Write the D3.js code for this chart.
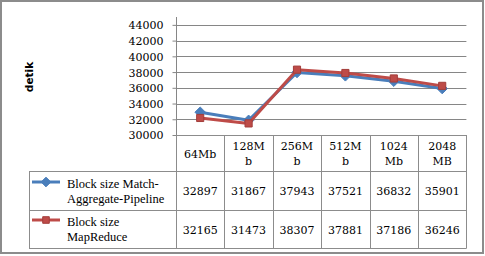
<!DOCTYPE html>
<html>
<head>
<meta charset="utf-8">
<script src="https://cdn.jsdelivr.net/npm/d3@7"></script>
<style>
  body { margin: 0; background: #fff; }
  svg text { font-family: "DejaVu Serif", serif; fill: #000; }
</style>
</head>
<body>
<div id="chart"></div>
<script>
const categories = ["64Mb", "128Mb", "256Mb", "512Mb", "1024Mb", "2048MB"];
const categoryLines = [["64Mb"], ["128M", "b"], ["256M", "b"], ["512M", "b"], ["1024", "Mb"], ["2048", "MB"]];
const seriesNames = [["Block size Match-", "Aggregate-Pipeline"], ["Block size", "MapReduce"]];
const matchAggregate = [32897, 31867, 37943, 37521, 36832, 35901];
const mapReduce = [32165, 31473, 38307, 37881, 37186, 36246];
const yTicks = [30000, 32000, 34000, 36000, 38000, 40000, 42000, 44000];
const colors = ["#4a7ebb", "#be4b48"];

function drawChart() {
  const W = 485, H = 256;
  const plot = { left: 176, right: 466.4, top: 17, bottom: 135 };
  const table = { left: 29, rows: [135, 171, 210, 248] };

  const svg = d3.select("#chart").append("svg")
    .attr("width", W).attr("height", H);

  // outer frame
  svg.append("rect")
    .attr("x", 1).attr("y", 1).attr("width", W - 3).attr("height", H - 4)
    .attr("fill", "#fff").attr("stroke", "#8c8c8c").attr("stroke-width", 2);

  const x = d3.scaleBand().domain(categories).range([plot.left, plot.right]);
  const y = d3.scaleLinear().domain([30000, 45000]).range([plot.bottom, plot.top]);

  // gridlines
  svg.append("g")
    .selectAll("line")
    .data(yTicks.slice(1))
    .join("line")
    .attr("x1", plot.left).attr("x2", plot.right)
    .attr("y1", d => Math.round(y(d)) + 0.5).attr("y2", d => Math.round(y(d)) + 0.5)
    .attr("stroke", "#868686").attr("stroke-width", 1);

  // y axis
  const yAxis = svg.append("g")
    .attr("transform", `translate(${plot.left + 0.5},0)`)
    .call(d3.axisLeft(y).tickValues(yTicks).tickSize(4).tickPadding(9).tickFormat(d3.format("d")));
  yAxis.select(".domain").attr("stroke", "#868686").attr("d", `M-0,${plot.top}V${plot.bottom}`);
  yAxis.selectAll(".tick line").attr("stroke", "#868686");
  yAxis.selectAll(".tick text").style("font-size", "11px").attr("dy", "0.36em");

  // axis title
  svg.append("text")
    .attr("transform", "translate(33,77) rotate(-90)")
    .attr("text-anchor", "middle")
    .style("font-family", "'DejaVu Sans', sans-serif")
    .style("font-weight", "bold")
    .style("font-size", "10.5px")
    .text("detik");

  // data table grid
  const grid = svg.append("g").attr("stroke", "#8c8c8c").attr("stroke-width", 1);
  const colEdges = categories.map(c => x(c)).concat([plot.right]);
  grid.append("line").attr("x1", plot.left).attr("x2", plot.right)
    .attr("y1", table.rows[0] + 0.5).attr("y2", table.rows[0] + 0.5);
  table.rows.slice(1).forEach(r => {
    grid.append("line").attr("x1", table.left).attr("x2", plot.right)
      .attr("y1", r + 0.5).attr("y2", r + 0.5);
  });
  colEdges.forEach(cx => {
    grid.append("line").attr("x1", Math.round(cx) + 0.5).attr("x2", Math.round(cx) + 0.5)
      .attr("y1", table.rows[0]).attr("y2", table.rows[3] + 0.5);
  });
  grid.append("line").attr("x1", table.left + 0.5).attr("x2", table.left + 0.5)
    .attr("y1", table.rows[1]).attr("y2", table.rows[3] + 0.5);

  // header labels
  svg.append("g").selectAll("text")
    .data(categoryLines)
    .join("text")
    .attr("text-anchor", "middle")
    .attr("x", (d, i) => x(categories[i]) + x.bandwidth() / 2)
    .attr("y", d => d.length === 1 ? 158 : 150)
    .style("font-size", "11px")
    .selectAll("tspan")
    .data(d => d)
    .join("tspan")
    .attr("x", function () { return d3.select(this.parentNode).attr("x"); })
    .attr("dy", (d, i) => i === 0 ? 0 : 15)
    .text(d => d);

  const series = [matchAggregate, mapReduce];
  const valueBaselines = [195, 234];
  series.forEach((vals, s) => {
    svg.append("g").selectAll("text")
      .data(vals)
      .join("text")
      .attr("text-anchor", "middle")
      .attr("x", (d, i) => x(categories[i]) + x.bandwidth() / 2)
      .attr("y", valueBaselines[s])
      .style("font-size", "11px")
      .text(d => d);
  });

  // legend cells
  const legendLineY = [182, 220];
  const legendTextY = [[188, 203], [226, 241]];
  seriesNames.forEach((names, s) => {
    const g = svg.append("g");
    g.append("line")
      .attr("x1", 32).attr("x2", 60)
      .attr("y1", legendLineY[s]).attr("y2", legendLineY[s])
      .attr("stroke", colors[s]).attr("stroke-width", 3);
    g.append("path")
      .attr("transform", `translate(46,${legendLineY[s]})`)
      .attr("d", d3.symbol().type(s === 0 ? d3.symbolDiamond2 : d3.symbolSquare2).size(s === 0 ? 60 : 55)())
      .attr("fill", colors[s]).attr("stroke", s === 0 ? colors[s] : "#a33d3a");
    names.forEach((t, k) => {
      g.append("text")
        .attr("x", 67).attr("y", legendTextY[s][k])
        .style("font-family", "'Liberation Serif', serif")
        .style("font-size", "12.5px")
        .text(t);
    });
  });

  // lines and markers
  const line = d3.line()
    .x((d, i) => x(categories[i]) + x.bandwidth() / 2)
    .y(d => y(d));

  series.forEach((vals, s) => {
    svg.append("path")
      .datum(vals)
      .attr("d", line)
      .attr("fill", "none")
      .attr("stroke", colors[s])
      .attr("stroke-width", 3)
      .attr("stroke-linejoin", "round");
    svg.append("g").selectAll("path")
      .data(vals)
      .join("path")
      .attr("transform", (d, i) => `translate(${x(categories[i]) + x.bandwidth() / 2},${y(d)})`)
      .attr("d", d3.symbol().type(s === 0 ? d3.symbolDiamond2 : d3.symbolSquare2).size(s === 0 ? 70 : 65)())
      .attr("fill", colors[s])
      .attr("stroke", s === 0 ? colors[s] : "#a33d3a");
  });
}

drawChart();
</script>
</body>
</html>
